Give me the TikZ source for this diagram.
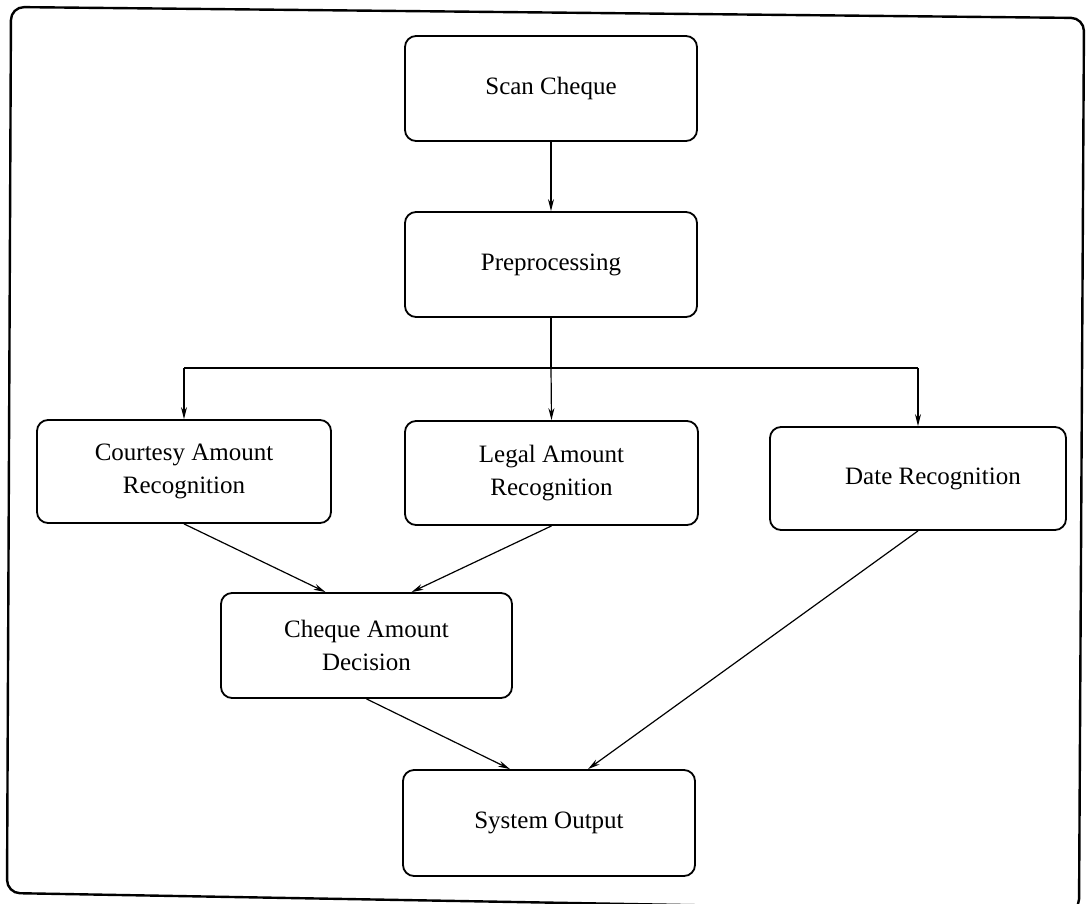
\documentclass[tikz,border=0pt]{standalone}
\usepackage{fontspec}
\setmainfont{Liberation Serif}
\usetikzlibrary{arrows.meta}
\begin{document}
\begin{tikzpicture}[x=1pt,y=-1pt,
  stage/.style={draw, line width=1.8pt, rounded corners=11pt,
    minimum width=292pt, minimum height=105pt, align=center,
    inner sep=0pt, font=\fontsize{25}{33}\selectfont},
  flow/.style={line width=1.2pt, -{Stealth[length=12pt,width=6pt]}},
  link/.style={line width=1.2pt}]
\useasboundingbox (0,0) rectangle (1087,903);
% outer frame, slightly skewed
\draw[line width=2.4pt, rounded corners=13pt]
  (11,7) -- (1084,18) -- (1079,912) -- (7,893) -- cycle;

% processing stages
\node[stage] (scan) at (551,88.5) {Scan Cheque};
\node[stage] (prep) at (551,264.5) {Preprocessing};
\node[stage, minimum width=294pt, minimum height=103pt] (court) at (184,471.5) {Courtesy Amount\\Recognition};
\node[stage, minimum width=293pt, minimum height=104pt] (legal) at (551.5,473) {Legal Amount\\Recognition};
\node[stage, minimum width=296pt, minimum height=103pt] (date) at (918,478.5) {\hspace*{30pt}Date Recognition};
\node[stage, minimum width=291pt] (dec) at (366.5,645.5) {Cheque Amount\\Decision};
\node[stage, minimum height=106pt] (out) at (549,823) {System Output};

% branch points
\coordinate (split) at (551,368);
\coordinate (splitL) at (184,368);
\coordinate (splitR) at (918,368);

% connectors
\draw[flow] (scan) -- (prep);
\draw[link] (prep.south) -- (split);
\draw[link] (splitL) -- (splitR);
\draw[flow] (splitL) -- (court.north);
\draw[flow] (split) -- (legal.north);
\draw[flow] (splitR) -- (date.north);
\draw[flow] (court.south) -- ([xshift=-41pt]dec.north);
\draw[flow] (legal.south) -- ([xshift=45pt]dec.north);
\draw[flow] (dec.south) -- ([xshift=-39pt]out.north);
\draw[flow] (date.south) -- ([xshift=39pt]out.north);
\end{tikzpicture}
\end{document}
